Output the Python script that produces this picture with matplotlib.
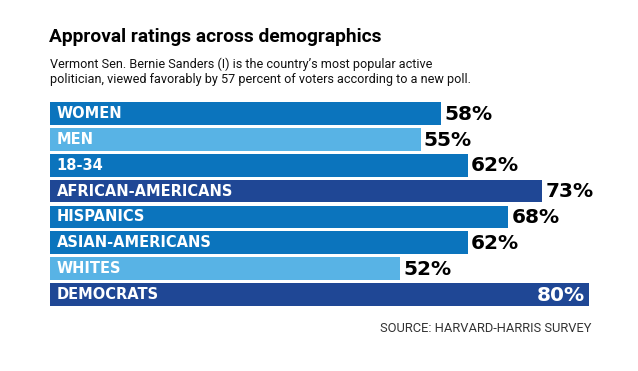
import matplotlib.pyplot as plt

groups = ['WOMEN', 'MEN', '18-34', 'AFRICAN-AMERICANS', 'HISPANICS',
          'ASIAN-AMERICANS', 'WHITES', 'DEMOCRATS']
approval = [58, 55, 62, 73, 68, 62, 52, 80]
shade = ['mid', 'light', 'mid', 'dark', 'mid', 'mid', 'light', 'dark']

palette = {'mid': '#0b74bd', 'light': '#58b3e5', 'dark': '#1f4795'}

W, H = 638, 371
fig = plt.figure(figsize=(W / 100, H / 100), dpi=100)
fig.patch.set_facecolor('white')

# axes placed in pixel terms: bars run from x=50 to x=589, y=102 to 306
ax = fig.add_axes([50 / W, (H - 306) / H, 539 / W, 204 / H])
ypos = list(range(len(groups)))
ax.barh(ypos, approval, height=0.88, color=[palette[s] for s in shade])
ax.set_xlim(0, max(approval))
ax.set_ylim(len(groups) - 0.56, -0.44)
ax.axis('off')

for i, (g, v) in enumerate(zip(groups, approval)):
    ax.text(1.0, i, g, color='white', fontsize=10.5, fontweight='heavy',
            va='center', ha='left', family='DejaVu Sans')
    if v == max(approval):
        # biggest bar gets its label inside, in white
        ax.text(v - 0.6, i + 0.03, f'{v}%', color='white', fontsize=14.5,
                fontweight='heavy', va='center', ha='right', family='DejaVu Sans')
    else:
        ax.text(v + 0.5, i + 0.03, f'{v}%', color='black', fontsize=14.5,
                fontweight='heavy', va='center', ha='left', family='DejaVu Sans',
                clip_on=False)

fig.text(49 / W, 1 - 37 / H, 'Approval ratings across demographics',
         fontsize=13.8, fontweight='bold', family='Roboto', va='center', ha='left')
fig.text(50 / W, 1 - 71.5 / H,
         'Vermont Sen. Bernie Sanders (I) is the country\u2019s most popular active\n'
         'politician, viewed favorably by 57 percent of voters according to a new poll.',
         fontsize=9.1, family='Roboto', va='center', ha='left', linespacing=1.22,
         color='#111111')
fig.text(591 / W, 1 - 329 / H, 'SOURCE: HARVARD-HARRIS SURVEY',
         fontsize=9.3, family='Roboto', color='#333333', va='center', ha='right')

fig.savefig('out.png', dpi=100)
